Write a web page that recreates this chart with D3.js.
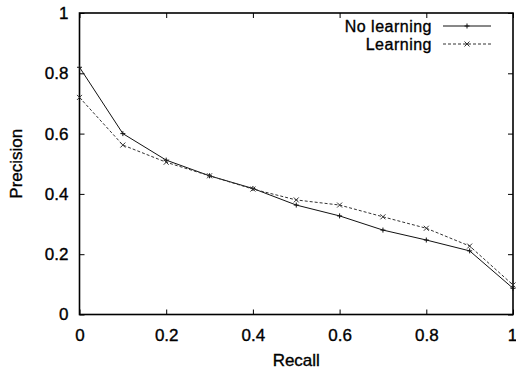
<!DOCTYPE html>
<html>
<head>
<meta charset="utf-8">
<script src="https://cdn.jsdelivr.net/npm/d3@7"></script>
<style>
  body { margin: 0; background: #fff; }
  text { font-family: "Liberation Sans", Arial, sans-serif; fill: #000; }
</style>
</head>
<body>
<div id="chart"></div>
<script>
// recall points shared by both curves
const recall = [0, 0.1, 0.2, 0.3, 0.4, 0.5, 0.6, 0.7, 0.8, 0.9, 1.0];
const noLearning = [0.82, 0.60, 0.512, 0.46, 0.418, 0.363, 0.327, 0.280, 0.247, 0.211, 0.087];
const learning   = [0.72, 0.562, 0.505, 0.46, 0.416, 0.380, 0.363, 0.324, 0.286, 0.227, 0.098];
const xTicks = [0, 0.2, 0.4, 0.6, 0.8, 1];
const yTicks = [0, 0.2, 0.4, 0.6, 0.8, 1];

const width = 516, height = 375;
const margin = {top: 13, right: 3, bottom: 60.5, left: 79.5};
const innerW = width - margin.left - margin.right;
const innerH = height - margin.top - margin.bottom;
const fontSize = 17;

const svg = d3.select('#chart').append('svg')
    .attr('width', width)
    .attr('height', height);

const chart = svg.append('g')
    .attr('transform', `translate(${margin.left},${margin.top})`);

const x = d3.scaleLinear().domain([0, 1]).range([0, innerW]);
const y = d3.scaleLinear().domain([0, 1]).range([innerH, 0]);

// scanned text looks heavy, thicken it a little
function styleText(sel, size) {
  sel.attr('font-size', size || fontSize)
     .attr('font-family', '"Liberation Sans", Arial, sans-serif')
     .attr('stroke', '#000')
     .attr('stroke-width', 0.35);
}

const fmt = d => d === 0 || d === 1 ? String(d) : d3.format('.1f')(d);

// axes with inward ticks, mirrored on top/right
chart.append('g')
    .attr('transform', `translate(0,${innerH})`)
    .call(d3.axisBottom(x).tickValues(xTicks).tickSizeInner(-5).tickSizeOuter(0).tickPadding(14).tickFormat(fmt))
    .call(g => g.select('.domain').remove())
    .call(g => g.selectAll('text').call(styleText))
    .call(g => g.selectAll('text').filter(d => d === 1).attr('dx', -1));

chart.append('g')
    .call(d3.axisLeft(y).tickValues(yTicks).tickSizeInner(-5).tickSizeOuter(0).tickPadding(11).tickFormat(fmt))
    .call(g => g.select('.domain').remove())
    .call(g => g.selectAll('text').call(styleText));

chart.append('g')
    .call(d3.axisTop(x).tickValues(xTicks).tickSizeInner(-5).tickSizeOuter(0).tickFormat(''))
    .call(g => g.select('.domain').remove());

chart.append('g')
    .attr('transform', `translate(${innerW},0)`)
    .call(d3.axisRight(y).tickValues(yTicks).tickSizeInner(-5).tickSizeOuter(0).tickFormat(''))
    .call(g => g.select('.domain').remove());

chart.append('rect')
    .attr('width', innerW)
    .attr('height', innerH)
    .attr('fill', 'none')
    .attr('stroke', '#000')
    .attr('stroke-width', 1.6);

const line = d3.line()
    .x((d, i) => x(recall[i]))
    .y(d => y(d));

const series = [
  {name: 'No learning', values: noLearning, dash: null, marker: 'plus', color: '#111'},
  {name: 'Learning', values: learning, dash: '3,2', marker: 'cross', color: '#333'}
];

function drawMarker(g, kind, cx, cy) {
  const s = 2.5;
  if (kind === 'plus') {
    g.append('path').attr('d', `M${cx - s},${cy}H${cx + s}M${cx},${cy - s}V${cy + s}`);
  } else {
    g.append('path').attr('d', `M${cx - s},${cy - s}L${cx + s},${cy + s}M${cx - s},${cy + s}L${cx + s},${cy - s}`);
  }
}

series.forEach(s => {
  chart.append('path')
      .datum(s.values)
      .attr('d', line)
      .attr('fill', 'none')
      .attr('stroke', s.color)
      .attr('stroke-width', 1)
      .attr('stroke-dasharray', s.dash);
  const mg = chart.append('g').attr('stroke', s.color).attr('stroke-width', 1).attr('fill', 'none');
  s.values.forEach((v, i) => drawMarker(mg, s.marker, x(recall[i]), y(v)));
});

// legend
const legend = svg.append('g').attr('transform', 'translate(432,26)');
series.forEach((s, i) => {
  const row = legend.append('g').attr('transform', `translate(0,${i * 18})`);
  row.append('text')
      .attr('text-anchor', 'end')
      .attr('dy', '0.35em')
      .call(styleText, 16)
      .attr('letter-spacing', 0.5)
      .text(s.name);
  row.append('line')
      .attr('x1', 11).attr('x2', 59)
      .attr('stroke', s.color)
      .attr('stroke-width', 1)
      .attr('stroke-dasharray', s.dash);
  const mg = row.append('g').attr('stroke', s.color).attr('stroke-width', 1).attr('fill', 'none');
  drawMarker(mg, s.marker, 35, 0);
});

// axis titles
svg.append('text')
    .attr('x', margin.left + innerW / 2)
    .attr('y', 366)
    .attr('text-anchor', 'middle')
    .call(styleText)
    .text('Recall');

svg.append('text')
    .attr('transform', `translate(22,${margin.top + innerH / 2}) rotate(-90)`)
    .attr('text-anchor', 'middle')
    .call(styleText)
    .text('Precision');
</script>
</body>
</html>
